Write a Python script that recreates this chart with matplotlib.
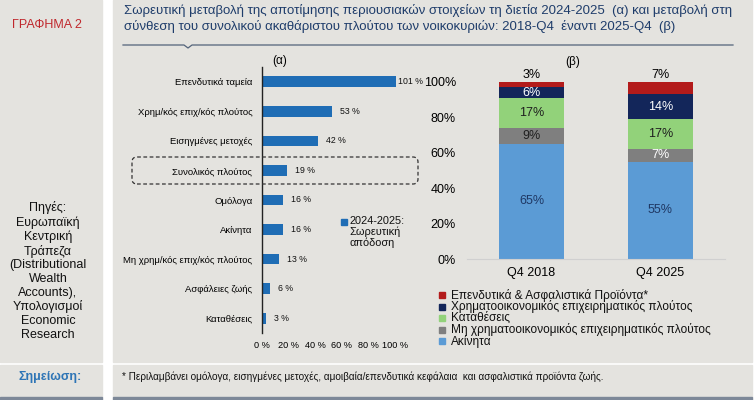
import matplotlib
matplotlib.use("Agg")
import matplotlib.pyplot as plt
from matplotlib.patches import Rectangle, FancyBboxPatch

plt.rcParams['font.family'] = ['Liberation Sans', 'DejaVu Sans']

# data
assets_a = ['Επενδυτικά ταμεία', 'Χρημ/κός επιχ/κός πλούτος', 'Εισηγμένες μετοχές',
            'Συνολικός πλούτος', 'Ομόλογα', 'Ακίνητα', 'Μη χρημ/κός επιχ/κός πλούτος',
            'Ασφάλειες ζωής', 'Καταθέσεις']
returns_a = [101, 53, 42, 19, 16, 16, 13, 6, 3]
series_a_label = '2024-2025:\nΣωρευτική\nαπόδοση'

periods_b = ['Q4 2018', 'Q4 2025']
comp_labels = ['Ακίνητα', 'Μη χρηματοοικονομικός επιχειρηματικός πλούτος', 'Καταθέσεις',
               'Χρηματοοικονομικός επιχειρηματικός πλούτος',
               'Επενδυτικά & Ασφαλιστικά Προϊόντα*']
comp_2018 = [65, 9, 17, 6, 3]
comp_2025 = [55, 7, 17, 14, 7]

title = ('Σωρευτική μεταβολή της αποτίμησης περιουσιακών στοιχείων τη διετία 2024-2025  (α) και μεταβολή στη\n'
         'σύνθεση του συνολικού ακαθάριστου πλούτου των νοικοκυριών: 2018-Q4  έναντι 2025-Q4  (β)')
sources = ('Πηγές:\nΕυρωπαϊκή\nΚεντρική\nΤράπεζα\n(Distributional\nWealth\nAccounts),\n'
           'Υπολογισμοί\nEconomic\nResearch')
note = ('* Περιλαμβάνει ομόλογα, εισηγμένες μετοχές, αμοιβαία/επενδυτικά κεφάλαια  '
        'και ασφαλιστικά προϊόντα ζωής.')

W, H = 755, 400
BG = '#e4e3df'
BAR_A = '#1f6db5'
COMP_COLORS = ['#5b9bd5', '#7f7f7f', '#92d27a', '#13265a', '#b31b1b']
COMP_TEXT = [['#1f3864', '#1f1f1f', '#1f1f1f', 'white', 'black'],
             ['#1f3864', 'white', '#1f1f1f', 'white', 'black']]


def px_axes(fig, x0, y0, x1, y1):
    # pixel box (top-left origin) -> axes
    return fig.add_axes([x0 / W, 1 - y1 / H, (x1 - x0) / W, (y1 - y0) / H])


def fx(x):
    return x / W


def fy(y):
    return 1 - y / H


fig = plt.figure(figsize=(W / 100, H / 100), dpi=100, facecolor='white')

# background panels
for (x0, y0, x1, y1, c) in [(0, 0, 102, 362, BG), (113, 0, 752, 362, BG),
                            (0, 365, 102, 397, BG), (113, 365, 752, 397, BG),
                            (0, 397, 102, 400, '#7d8898'), (113, 397, 752, 400, '#7d8898')]:
    fig.patches.append(Rectangle((fx(x0), fy(y1)), fx(x1 - x0), (y1 - y0) / H,
                                 transform=fig.transFigure, color=c, zorder=-5))

fig.text(fx(47), fy(25), 'ΓΡΑΦΗΜΑ 2', color='#c0282d', fontsize=9, ha='center', va='center')
fig.text(fx(48), fy(271), sources, fontsize=9, ha='center', va='center', linespacing=1.18,
         color='#111111')
fig.text(fx(50), fy(377), 'Σημείωση:', color='#2e75b6', fontsize=9, fontweight='bold',
         ha='center', va='center')
fig.text(fx(122), fy(377), note, fontsize=7.2, ha='left', va='center', color='#111111')

fig.text(fx(124), fy(18.5), title, color='#1f3d6b', fontsize=9.55, ha='left', va='center',
         linespacing=1.32)
fig.lines.append(plt.Line2D([fx(123), fx(184), fx(188), fx(192), fx(733)],
                            [fy(45), fy(45), fy(48), fy(45), fy(45)],
                            transform=fig.transFigure, color='#52637a', lw=0.9))

# (a) horizontal bars
ax = px_axes(fig, 262, 67, 395, 333)
ax.set_facecolor('none')
ypos = list(range(len(assets_a)))
ax.barh(ypos, returns_a, height=0.36, color=BAR_A, clip_on=False)
ax.set_xlim(0, 100)
ax.set_ylim(len(assets_a) - 0.5, -0.5)
ax.set_yticks(ypos)
ax.set_yticklabels(assets_a, fontsize=6.8)
ax.set_xticks([0, 20, 40, 60, 80, 100])
ax.set_xticklabels([f'{v} %' for v in [0, 20, 40, 60, 80, 100]], fontsize=6.6)
ax.tick_params(length=0)
ax.tick_params(axis='y', pad=7)
ax.tick_params(axis='x', pad=6)
for s in ['top', 'right', 'bottom']:
    ax.spines[s].set_visible(False)
ax.spines['left'].set_color('#222222')
ax.spines['left'].set_linewidth(1.0)
for yv, v in zip(ypos, returns_a):
    off = 1.0 if v > 100 else 6
    ax.text(v + off, yv, f'{v} %', fontsize=6.3, va='center', ha='left', color='#111111')
ax.text(0.13, 1.0, '(α)', transform=ax.transAxes, fontsize=8.5, ha='center', va='bottom')

# series key for (a)
fig.patches.append(Rectangle((fx(341), fy(225)), 6 / W, 6 / H,
                             transform=fig.transFigure, color=BAR_A))
fig.text(fx(349), fy(216), series_a_label, fontsize=7.9, ha='left', va='top',
         linespacing=1.08, color='#111111')

fig.patches.append(FancyBboxPatch((132 / 100, (H - 184) / 100), 286 / 100, 27 / 100,
                                  boxstyle='round,pad=0,rounding_size=0.05',
                                  transform=fig.dpi_scale_trans, fill=False,
                                  edgecolor='#333333', lw=0.9, ls=(0, (3, 2)), zorder=5))

# (b) stacked columns
bx = px_axes(fig, 467, 82, 725, 259)
bx.set_facecolor('none')
xpos = list(range(len(periods_b)))
bottoms = [0, 0]
for i, lab in enumerate(comp_labels):
    vals = [comp_2018[i], comp_2025[i]]
    bx.bar(xpos, vals, width=0.5, bottom=bottoms, color=COMP_COLORS[i], clip_on=False)
    for j, v in enumerate(vals):
        if i == len(comp_labels) - 1:
            ty, va = bottoms[j] + v + 0.3, 'bottom'
        else:
            ty, va = bottoms[j] + v / 2, 'center'
        bx.text(xpos[j], ty, f'{v}%', ha='center', va=va, fontsize=9,
                color=COMP_TEXT[j][i])
    bottoms = [b + v for b, v in zip(bottoms, vals)]
bx.set_xlim(-0.5, 1.5)
bx.set_ylim(0, 100)
bx.set_yticks([0, 20, 40, 60, 80, 100])
bx.set_yticklabels([f'{v}%' for v in [0, 20, 40, 60, 80, 100]], fontsize=9)
bx.set_xticks(xpos)
bx.set_xticklabels(periods_b, fontsize=9)
bx.tick_params(length=0)
bx.tick_params(axis='y', pad=8)
bx.tick_params(axis='x', pad=6)
for s in ['top', 'right', 'left']:
    bx.spines[s].set_visible(False)
bx.spines['bottom'].set_color('#d0d0d0')
bx.text(0.41, 1.08, '(β)', transform=bx.transAxes, fontsize=8.5, ha='center', va='bottom')

# legend for (b), top entry = last series
for k, i in enumerate(reversed(range(len(comp_labels)))):
    yy = 295 + k * 11.5
    fig.patches.append(Rectangle((fx(439), fy(yy + 3)), 6 / W, 6 / H,
                                 transform=fig.transFigure, color=COMP_COLORS[i]))
    fig.text(fx(451), fy(yy), comp_labels[i], fontsize=8.6, va='center', ha='left',
             color='#111111')

fig.savefig('out.png', dpi=100, facecolor='white')
